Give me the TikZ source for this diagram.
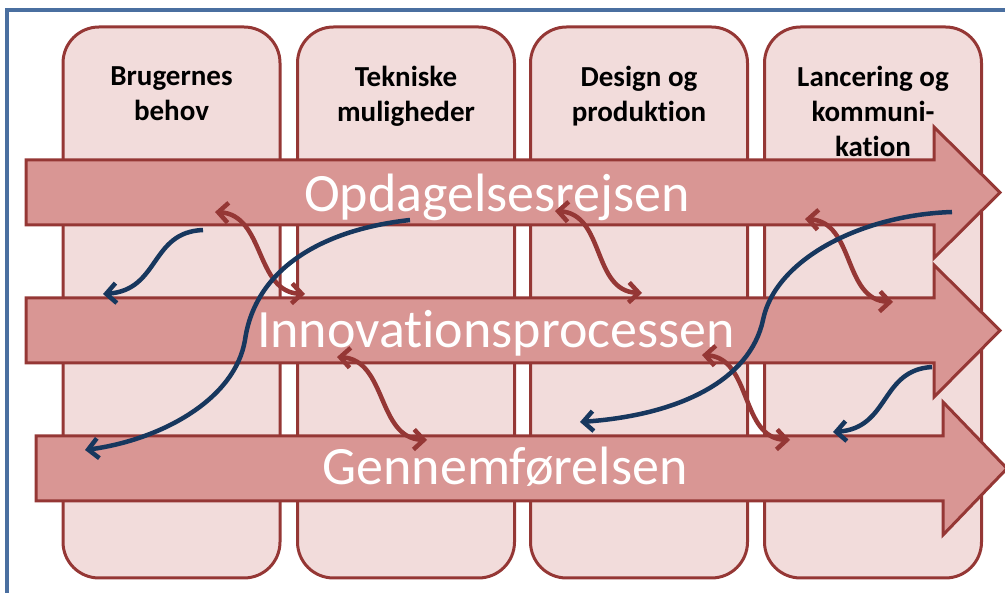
\documentclass[tikz,border=0pt]{standalone}
\usepackage{fontspec}
\setmainfont{Carlito}[Ligatures=NoCommon]
\usetikzlibrary{arrows.meta}
\definecolor{colfill}{RGB}{242,220,219}
\definecolor{darkred}{RGB}{149,55,53}
\definecolor{arrfill}{RGB}{217,150,148}
\definecolor{navy}{RGB}{23,55,94}
\definecolor{frameblue}{RGB}{74,111,160}
\tikzset{
  column/.style={draw=darkred, fill=colfill, line width=3pt, rounded corners=36pt, minimum width=217pt, minimum height=551pt, inner sep=0pt},
  colhead/.style={font=\bfseries\fontsize{29}{35}\selectfont, align=center, anchor=north, inner sep=0pt},
  bigarrow/.style={draw=darkred, fill=arrfill, line width=3pt},
  arrtext/.style={text=white, font=\fontsize{54}{60}\selectfont, anchor=base, inner sep=0pt},
  redlink/.style={draw=darkred, line width=4.5pt, {Straight Barb[length=10pt,width=20pt]}-{Straight Barb[length=10pt,width=20pt]}},
  bluelink/.style={draw=navy, line width=4.5pt, -{Straight Barb[length=10pt,width=20pt]}}
}

\begin{document}
\begin{tikzpicture}[x=1pt,y=-1pt]
\useasboundingbox (0,0) rectangle (1005,593);
\draw[frameblue, line width=3.5pt] (7,600) -- (7,10) -- (1010,10);

\node[column] (brugere) at (171.5,302.5) {};
\node[column] (teknik) at (406,302.5) {};
\node[column] (design) at (639,302.5) {};
\node[column] (lancering) at (873,302.5) {};
\node[colhead] (hbrugere) at (171.5,66) {Brugernes\\behov};
\node[colhead] (hteknik) at (406,66) {Tekniske\\muligheder};
\node[colhead] (hdesign) at (639,66) {Design og\\produktion};
\node[colhead] (hlancering) at (873,66) {Lancering og\\kommuni-\\kation};

\draw[bigarrow] (26,160) -- (934,160) -- (934,127) -- (1000,192.5) -- (934,258) -- (934,225) -- (26,225) -- cycle;
\draw[bigarrow] (26,298) -- (934,298) -- (934,265) -- (1000,330.5) -- (934,397) -- (934,363) -- (26,363) -- cycle;
\draw[bigarrow] (36,436) -- (943,436) -- (943,402) -- (1007,468.5) -- (943,535) -- (943,501) -- (36,501) -- cycle;
\node[arrtext] (opdagelse) at (497,212) {Opdagelsesrejsen};
\node[arrtext] (innovation) at (496,348) {Innovationsprocessen};
\node[arrtext] (gennemfoer) at (505,485) {Gennemførelsen};

% end points of the links
\coordinate (r1a) at (215,212); \coordinate (r1b) at (305,294);
\coordinate (r2a) at (555,211); \coordinate (r2b) at (642,293);
\coordinate (r3a) at (805,219); \coordinate (r3b) at (893,302);
\coordinate (r4a) at (337,357); \coordinate (r4b) at (427,440);
\coordinate (r5a) at (702,355); \coordinate (r5b) at (790,440);
\coordinate (b1a) at (203,230); \coordinate (b1b) at (103,294);
\coordinate (b2a) at (410,220); \coordinate (b2b) at (85,450);
\coordinate (b3a) at (952,212); \coordinate (b3b) at (580,422);
\coordinate (b4a) at (932,367); \coordinate (b4b) at (833,432);

\draw[redlink] (r1a) .. controls +(50,3) and +(-50,-2) .. (r1b);
\draw[redlink] (r2a) .. controls +(50,3) and +(-50,-2) .. (r2b);
\draw[redlink] (r3a) .. controls +(50,3) and +(-50,-2) .. (r3b);
\draw[redlink] (r4a) .. controls +(50,3) and +(-50,-2) .. (r4b);
\draw[redlink] (r5a) .. controls +(50,3) and +(-50,-2) .. (r5b);

\draw[bluelink] (b1a) .. controls +(-53,2) and +(57,-4) .. (b1b);
\draw[bluelink] (b2a) .. controls (320,230) and (255,270) .. (245,340) .. controls (235,400) and (160,440) .. (b2b);
\draw[bluelink] (b3a) .. controls (860,215) and (775,260) .. (763,320) .. controls (750,380) and (680,415) .. (b3b);
\draw[bluelink] (b4a) .. controls +(-52,3) and +(57,-4) .. (b4b);
\end{tikzpicture}
\end{document}
